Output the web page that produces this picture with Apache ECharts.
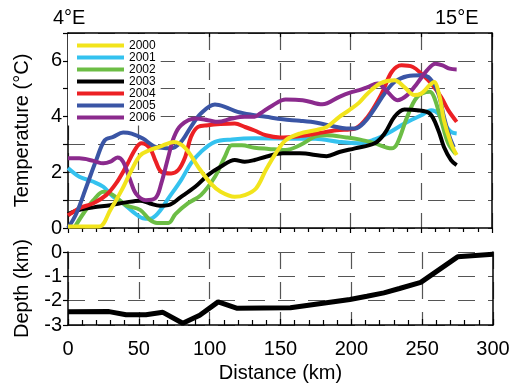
<!DOCTYPE html>
<html><head><meta charset="utf-8">
<script src="https://cdn.jsdelivr.net/npm/echarts@6/dist/echarts.min.js"></script>
<style>html,body{margin:0;padding:0;background:#fff}#c{width:514px;height:385px}</style>
</head><body><div id="c"></div>
<script>
// ---- data ----
const seriesNames = ['2000','2001','2002','2003','2004','2005','2006'];
const distanceTicks = [0, 50, 100, 150, 200, 250, 300];

const km2000 = [0,10,22,30,38,45,51,58,65,75,83,92,101,108,118,125,133,140,147,154,164,175,183,192,199,206,212,221,231,238,245,250,256,259,263,266,271,275];
const t2000  = [0.05,0.05,0.05,0.65,1.36,2.08,2.6,2.8,2.92,3.09,2.87,2.2,1.6,1.3,1.12,1.18,1.42,2.08,2.68,3.15,3.39,3.51,3.63,3.99,4.23,4.5,4.83,5.19,5.3,5.06,4.77,4.83,5.13,5.24,4.7,3.87,3.04,2.62];

const km2001 = [0,8,18,25,32,39,46,53,58,64,71,80,87,94,104,116,132,150,175,192,206,217,226,238,250,257,262,266,271,275];
const t2001  = [2.15,1.84,1.66,1.48,1.12,0.88,0.58,0.35,0.33,0.55,1.06,1.72,2.32,2.73,3.09,3.18,3.22,3.21,3.2,3.09,3.04,3.18,3.39,3.75,4.05,4.23,4.11,3.75,3.45,3.39];

const km2002 = [5,11,18,25,32,41,51,58,63,71,76,85,94,104,111,116,123,132,142,154,164,176,183,197,206,217,229,233,240,247,256,259,264,269,274];
const t2002  = [0.05,0.53,1.0,1.3,1.18,0.82,0.65,0.29,0.18,0.18,0.5,0.89,1.18,1.84,2.56,2.97,2.97,2.88,2.84,2.8,2.97,3.3,3.33,3.25,3.18,3.04,2.86,3.04,3.99,4.7,4.89,4.7,3.87,3.04,2.68];

const km2003 = [0,8,18,30,41,51,58,65,71,80,90,99,108,118,125,132,140,152,164,183,192,203,217,224,231,238,247,256,262,266,271,275];
const t2003  = [0.5,0.65,0.74,0.82,0.92,0.98,0.88,0.8,0.82,1.12,1.48,1.9,2.2,2.44,2.38,2.44,2.56,2.68,2.68,2.58,2.73,2.86,3.04,3.39,3.99,4.25,4.23,4.11,3.51,2.91,2.44,2.26];

const km2004 = [0,8,18,27,34,41,48,52,58,62,66,73,78,83,87,92,99,108,118,125,132,140,150,164,176,190,203,212,222,229,236,244,250,257,264,269,275];
const t2004  = [0.45,0.71,0.89,1.18,1.6,2.2,2.86,3.04,2.86,2.4,2.02,1.96,2.08,2.56,3.27,3.63,3.69,3.73,3.75,3.63,3.5,3.33,3.25,3.3,3.39,3.51,3.57,3.99,4.83,5.6,5.84,5.78,5.54,5.19,4.7,4.23,3.81];

const km2005 = [0,6,13,20,26,32,39,45,53,62,73,80,87,94,104,111,120,132,140,152,164,176,187,197,203,210,217,224,231,240,250,256,262,266,270,273];
const t2005  = [0.0,0.53,1.48,2.44,3.15,3.27,3.43,3.39,3.21,2.91,2.86,3.09,3.63,4.11,4.43,4.35,4.17,4.05,3.99,3.9,3.85,3.78,3.66,3.57,3.57,3.81,4.29,4.83,5.24,5.45,5.48,5.37,4.83,3.99,3.27,2.9];

const km2006 = [0,8,18,25,30,35,39,44,48,55,62,66,71,75,80,90,99,106,116,125,132,136,145,154,166,180,192,199,206,212,219,226,233,240,247,254,260,265,270,275];
const t2006  = [2.5,2.5,2.41,2.32,2.38,2.53,2.38,1.72,1.24,1.0,1.08,1.6,2.56,3.27,3.69,3.93,3.87,3.81,3.93,3.99,3.99,4.11,4.41,4.61,4.59,4.44,4.71,4.85,4.95,5.06,5.19,4.89,4.59,4.77,5.19,5.66,5.9,5.84,5.72,5.69];

const depthKm = [0,29,41,55,67,81,93,106,119,157,199,211,223,234,249,275,300];
const depthVal = [-2.46,-2.45,-2.58,-2.58,-2.48,-2.93,-2.6,-2.05,-2.31,-2.29,-1.95,-1.82,-1.68,-1.5,-1.25,-0.2,-0.09];

const kmLists = [km2000,km2001,km2002,km2003,km2004,km2005,km2006];
const tLists = [t2000,t2001,t2002,t2003,t2004,t2005,t2006];
const colors = ['#f2e41c','#34c2ef','#6cbd45','#000000','#ec2024','#3a55a5','#8b2a8d'];

// ---- chart ----
const FONT = 'Liberation Sans, Arial, sans-serif';
const dash = {color:'#555', width:1.2, type:[17,13]};
const axisLn = {show:true, onZero:false, lineStyle:{color:'#000', width:1.5}};
const pair = (xs, ys) => xs.map((x,i)=>[x, ys[i]]);

const series = seriesNames.map((n,i)=>({
  name:n, type:'line', xAxisIndex:0, yAxisIndex:0,
  data: pair(kmLists[i], tLists[i]),
  smooth:0.35, showSymbol:false, symbol:'none',
  color: colors[i],
  lineStyle:{width:4, color:colors[i]},
  z: i===0 ? 3 : 2
}));
series.push({
  name:'depth', type:'line', xAxisIndex:2, yAxisIndex:2,
  data: pair(depthKm, depthVal), showSymbol:false, symbol:'none',
  color:'#000', lineStyle:{width:5, color:'#000'}, z:2
});

const chart = echarts.init(document.getElementById('c'), null, {renderer:'canvas'});
chart.setOption({
  animation:false,
  backgroundColor:'#fff',
  textStyle:{fontFamily:FONT},
  grid:[
    {left:68, right:22, top:33, height:195},
    {left:68, right:21, top:252, height:73}
  ],
  legend:{
    data:seriesNames, left:68, top:34, orient:'vertical',
    icon:'rect', itemWidth:47, itemHeight:4, itemGap:0,
    padding:[5.5,5,2,9], backgroundColor:'#fff', selectedMode:false,
    textStyle:{fontSize:12, lineHeight:11, color:'#000', fontFamily:FONT}
  },
  graphic:[
    {type:'text', left:53, top:8, style:{text:'4°E', fontSize:20, fontFamily:FONT, fill:'#000'}},
    {type:'text', left:435, top:8, style:{text:'15°E', fontSize:20, fontFamily:FONT, fill:'#000'}}
  ],
  xAxis:[
    {gridIndex:0, type:'value', min:0, max:300, interval:50, position:'bottom',
      axisLine:axisLn, axisTick:{show:true, length:5, lineStyle:{color:'#000', width:1.2}},
      minorTick:{show:true, splitNumber:5, length:4, lineStyle:{color:'#000', width:1.2}},
      axisLabel:{show:false}, splitLine:{show:true, lineStyle:dash}},
    {gridIndex:0, type:'value', min:0, max:300, interval:50, position:'top',
      axisLine:axisLn, axisTick:{show:true, inside:true, length:4, lineStyle:{color:'#000', width:1.2}},
      axisLabel:{show:false}, splitLine:{show:false}},
    {gridIndex:1, type:'value', min:0, max:300, interval:50, position:'bottom',
      axisLine:axisLn, axisTick:{show:true, inside:true, length:6, lineStyle:{color:'#000', width:1.2}},
      minorTick:{show:true, splitNumber:5, length:5, lineStyle:{color:'#000', width:1.2}},
      axisLabel:{show:true, fontSize:20, color:'#000', margin:14, fontFamily:FONT,
        formatter:v=>distanceTicks.includes(v)?String(v):''},
      splitLine:{show:true, lineStyle:dash},
      name:'Distance (km)', nameLocation:'middle', nameGap:38,
      nameTextStyle:{fontSize:20, color:'#000', fontFamily:FONT}}
  ],
  yAxis:[
    {gridIndex:0, type:'value', min:0, max:7, interval:1,
      axisLine:axisLn, axisTick:{show:true, length:5, lineStyle:{color:'#000', width:1.2}},
      axisLabel:{show:true, fontSize:20, color:'#000', margin:6, fontFamily:FONT,
        formatter:v=>(v%2===0 && v<7)?String(v):''},
      splitLine:{show:true, lineStyle:dash},
      name:'Temperature (°C)', nameLocation:'middle', nameGap:36,
      nameTextStyle:{fontSize:20, color:'#000', fontFamily:FONT}},
    {gridIndex:0, type:'value', min:0, max:7, position:'right',
      axisLine:axisLn, axisTick:{show:false}, axisLabel:{show:false}, splitLine:{show:false}},
    {gridIndex:1, type:'value', min:-3, max:0, interval:1,
      axisLine:axisLn, axisTick:{show:true, length:5, lineStyle:{color:'#000', width:1.2}},
      axisLabel:{show:true, fontSize:20, color:'#000', margin:6, fontFamily:FONT},
      splitLine:{show:true, lineStyle:dash},
      name:'Depth (km)', nameLocation:'middle', nameGap:36,
      nameTextStyle:{fontSize:20, color:'#000', fontFamily:FONT}},
    {gridIndex:1, type:'value', min:-3, max:0, position:'right',
      axisLine:axisLn, axisTick:{show:false}, axisLabel:{show:false}, splitLine:{show:false}}
  ],
  series: series
});
</script>
</body></html>
